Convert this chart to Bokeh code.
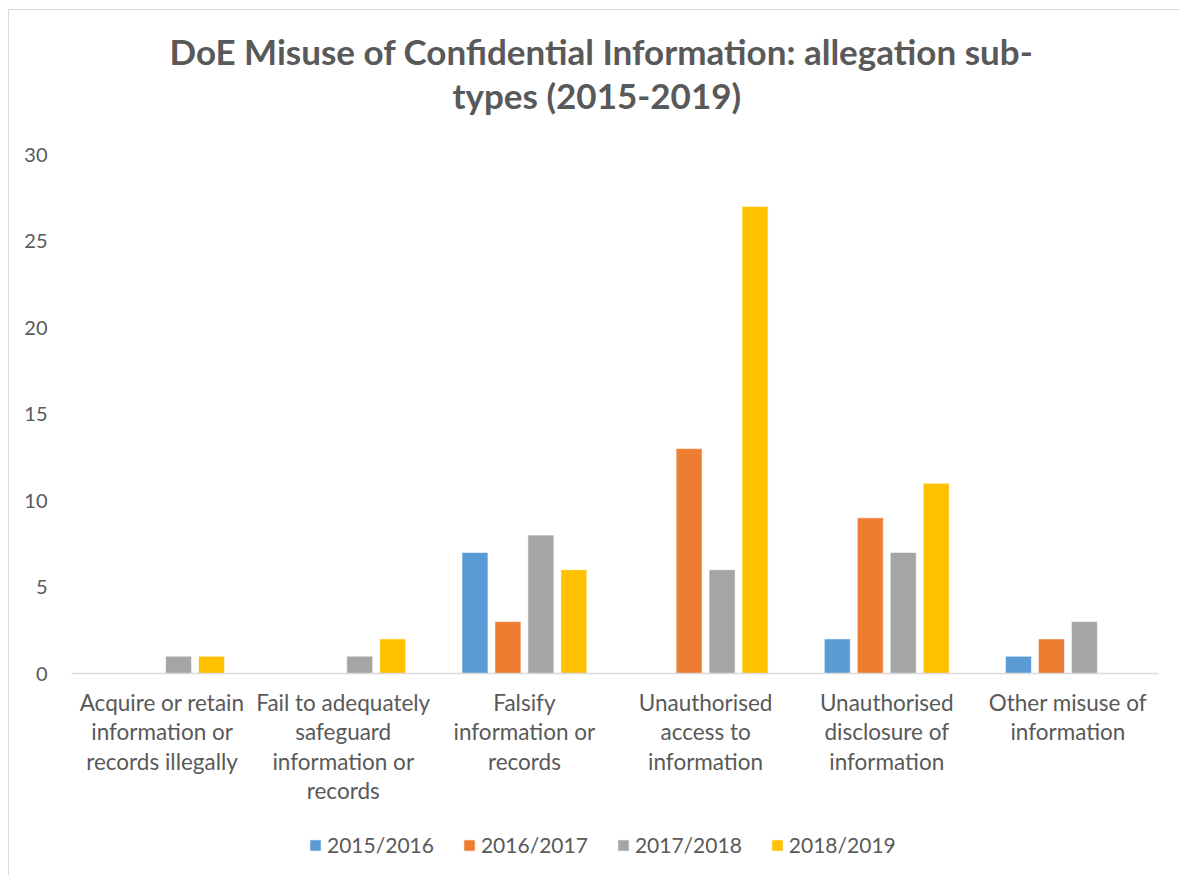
from bokeh.plotting import figure
from bokeh.models import FactorRange, Range1d, FixedTicker, Legend, LegendItem, ColumnDataSource, Title
from bokeh.transform import dodge
from bokeh.embed import file_html
from bokeh.resources import INLINE

categories = [
    "Acquire or retain\ninformation or\nrecords illegally",
    "Fail to adequately\nsafeguard\ninformation or\nrecords",
    "Falsify\ninformation or\nrecords",
    "Unauthorised\naccess to\ninformation",
    "Unauthorised\ndisclosure of\ninformation",
    "Other misuse of\ninformation",
]
years = ["2015/2016", "2016/2017", "2017/2018", "2018/2019"]
v_2015_2016 = [0, 0, 7, 0, 2, 1]
v_2016_2017 = [0, 0, 3, 13, 9, 2]
v_2017_2018 = [1, 1, 8, 6, 7, 3]
v_2018_2019 = [1, 2, 6, 27, 11, 0]
y_ticks = [0, 5, 10, 15, 20, 25, 30]
title_lines = ["DoE Misuse of Confidential Information: allegation sub-", "types (2015-2019)"]

series = [v_2015_2016, v_2016_2017, v_2017_2018, v_2018_2019]
colors = ["#5B9BD5", "#ED7D31", "#A5A5A5", "#FFC000"]

FONT = "Lato"
TXT = "#595959"

# frame: 0 at 663 px (figure coords), 30 at 144 px, extends to the figure bottom (866 px)
Y_TOP = 30
Y_BOTTOM = -Y_TOP * (866 - 663) / (663 - 144)

p = figure(
    x_range=FactorRange(*categories, range_padding=0),
    y_range=Range1d(Y_BOTTOM, Y_TOP),
    width=1172, height=866, title=None,
    output_backend="svg", toolbar_location=None,
    min_border_left=62, min_border_right=23, min_border_top=144, min_border_bottom=0,
)
p.margin = (9, 0, 0, 8)
p.styles = {"border-left": "1px solid #d9d9d9", "border-top": "1px solid #d9d9d9"}

# empty spacer between the plot frame and the two title lines
p.add_layout(Title(text=" ", text_font_size="2px", standoff=35), "above")
p.add_layout(Title(text=title_lines[1], align="left", offset=381, text_font=FONT,
                   text_font_style="bold", text_font_size="35px", text_color=TXT,
                   standoff=0), "above")
p.add_layout(Title(text=title_lines[0], align="left", offset=98, text_font=FONT,
                   text_font_style="bold", text_font_size="35px", text_color=TXT,
                   standoff=0), "above")

data = {"cat": categories}
for y, s in zip(years, series):
    data[y] = s
src = ColumnDataSource(data)

step = 0.182
items = []
for i, (y, c) in enumerate(zip(years, colors)):
    off = (i - 1.5) * step
    r = p.vbar(x=dodge("cat", off, range=p.x_range), top=y, bottom=0, width=0.1435, source=src,
               fill_color=c, line_color="white", line_alpha=0.6, line_width=1)
    items.append(LegendItem(label=y, renderers=[r]))

legend = Legend(items=items, orientation="horizontal", location=(237, 19),
                label_text_font=FONT, label_text_font_size="21px", label_text_color=TXT,
                glyph_width=14, glyph_height=14, label_standoff=5, spacing=28,
                border_line_color=None, background_fill_alpha=0, margin=0, padding=0)
p.add_layout(legend)

p.xgrid.visible = False
p.ygrid.visible = False
p.outline_line_color = None

p.yaxis.ticker = FixedTicker(ticks=y_ticks)
p.yaxis.axis_line_color = None
p.yaxis.major_tick_line_color = None
p.yaxis.minor_tick_line_color = None
p.yaxis.major_label_text_font = FONT
p.yaxis.major_label_text_font_size = "20px"
p.yaxis.major_label_text_color = TXT
p.yaxis.major_label_standoff = 18

p.xaxis.fixed_location = 0
p.xaxis.axis_line_color = "#d9d9d9"
p.xaxis.axis_line_width = 1.5
p.xaxis.major_tick_line_color = None
p.xaxis.minor_tick_line_color = None
p.xaxis.major_label_text_font = FONT
p.xaxis.major_label_text_font_size = "22.5px"
p.xaxis.major_label_text_color = TXT
p.xaxis.major_label_text_line_height = 1.094
p.xaxis.major_label_standoff = 9

open("out.html", "w").write(file_html(p, INLINE))
